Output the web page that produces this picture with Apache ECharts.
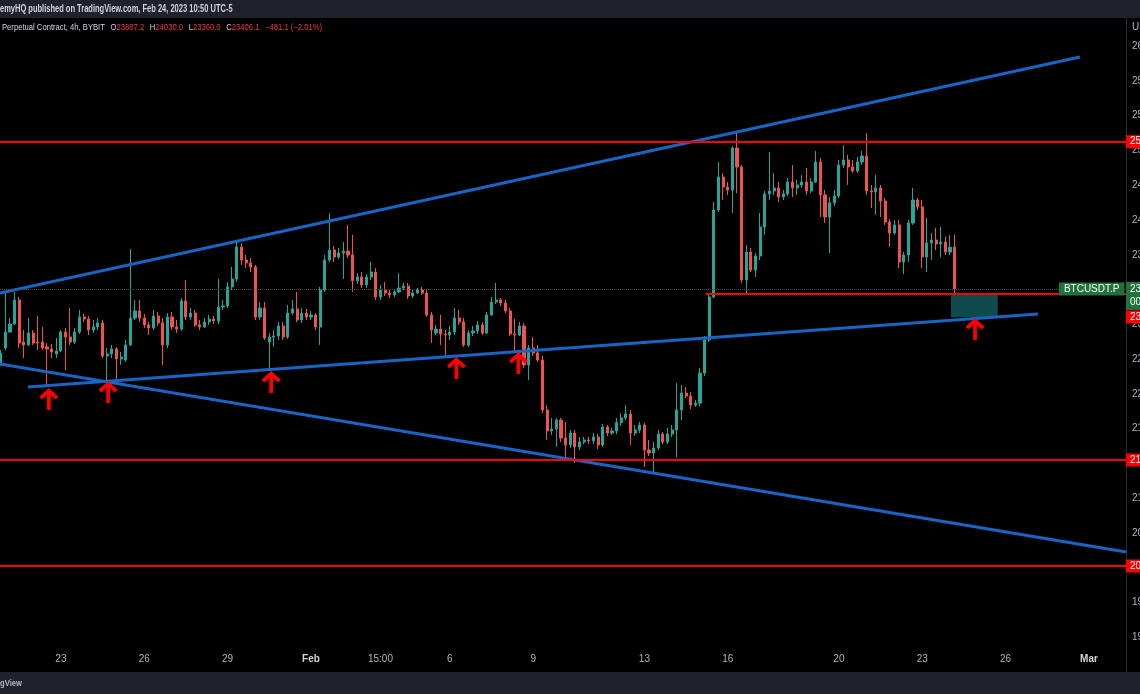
<!DOCTYPE html>
<html>
<head>
<meta charset="utf-8">
<script src="https://cdn.jsdelivr.net/npm/echarts@6/dist/echarts.min.js"></script>
<style>
html,body{margin:0;padding:0;background:#000;}
#c{width:1140px;height:694px;}
</style>
</head>
<body>
<div id="c"></div>
<script>
// ---- data (4h bars, UTC-5, first bar Jan 20 23:00) ----
const opens = [22555,22728,22912,23004,23280,22797,22763,22900,22797,22797,22740,22717,22659,22694,22912,22855,22797,22912,23085,23062,22935,22970,23016,22636,22659,22717,22602,22590,22763,23073,23154,23073,22993,22958,23096,23016,22763,23085,22970,22946,23269,23085,23130,22993,22970,23027,23062,23039,23200,23211,23430,23522,23890,23740,23706,23660,23085,23188,22797,22855,22866,22981,22855,23130,23177,23050,23130,23085,23108,22970,23395,23740,23855,23775,23820,23843,23797,23500,23545,23453,23545,23602,23315,23395,23360,23338,23372,23418,23441,23326,23360,23395,23360,23108,22900,22946,22889,22878,22912,23073,23027,22763,22900,22924,22993,22900,23108,23257,23280,23246,23154,22889,22878,22981,22533,22728,22671,22590,22015,21774,21796,21900,21693,21613,21750,21590,21647,21670,21660,21705,21613,21820,21750,21774,21870,21923,21969,21750,21785,21842,21555,21520,21578,21739,21647,21739,21785,22015,22210,22176,22072,22095,22440,22820,23315,24315,24695,24580,24545,25028,24810,23510,23832,23625,23786,24120,24500,24534,24568,24465,24500,24637,24568,24602,24637,24534,24637,24867,24488,24235,24397,24476,24832,24890,24810,24764,24867,24936,24534,24522,24568,24419,24177,24050,24143,23717,23797,24165,24430,24350,23775,23936,23970,23924,23947,23832,23887.2];
const closes = [22670,22912,23004,23280,22785,22763,22900,22785,22785,22728,22717,22682,22694,22912,22855,22797,22912,23085,23062,22935,22970,23016,22636,22659,22717,22602,22625,22763,23073,23154,23073,22993,22958,23096,23016,22763,23085,22970,22946,23269,23085,23130,22993,22970,23027,23062,23039,23200,23211,23430,23522,23890,23740,23706,23660,23085,23188,22843,22855,22866,22981,22855,23130,23177,23050,23130,23085,23108,22970,23395,23740,23855,23775,23820,23843,23797,23500,23545,23453,23545,23602,23315,23395,23360,23338,23372,23418,23441,23326,23360,23395,23360,23108,22935,22946,22889,22878,22912,23073,23027,22763,22900,22924,22993,22900,23108,23257,23280,23246,23154,22889,22878,22981,22533,22728,22671,22590,22015,21774,21796,21900,21693,21613,21750,21590,21647,21670,21660,21705,21613,21820,21750,21774,21870,21923,21969,21750,21785,21842,21555,21520,21578,21739,21647,21739,21785,22015,22210,22176,22072,22095,22440,22820,23315,24315,24695,24580,24545,25028,24810,23510,23832,23625,23786,24120,24500,24534,24568,24465,24500,24637,24568,24602,24637,24534,24637,24867,24488,24235,24397,24476,24832,24890,24810,24764,24867,24936,24534,24522,24568,24419,24177,24050,24143,23717,23797,24165,24430,24350,23775,23936,23970,23924,23947,23832,23887.2,23406.1];
const lows = [22521,22705,22900,22993,22728,22613,22751,22763,22705,22705,22280,22613,22613,22682,22475,22763,22774,22889,23027,22878,22900,22935,22613,22337,22613,22360,22533,22567,22751,23050,23027,22958,22878,22935,22981,22533,22728,22935,22900,22924,23050,23050,22970,22935,22958,22993,23004,23004,23165,23188,23395,23487,23683,23648,23602,23050,23050,22820,22498,22740,22820,22820,22832,23108,23027,23016,23050,23050,22935,22763,23372,23717,23717,23752,23522,23763,23372,23464,23418,23418,23510,23280,23280,23326,23303,23314,23360,23395,23292,23303,23349,23338,23085,22785,22878,22763,22636,22820,22878,22993,22740,22740,22866,22889,22878,22889,23096,23234,23211,23130,22866,22682,22866,22498,22360,22636,22567,21981,21670,21728,21590,21647,21440,21578,21405,21555,21624,21624,21624,21567,21590,21716,21728,21739,21831,21900,21613,21716,21750,21360,21486,21290,21555,21624,21624,21705,21474,21900,22153,22027,22050,22061,22406,22797,23303,24292,24430,24488,24280,24510,23475,23360,23602,23545,23740,24028,24430,24488,24407,24430,24476,24465,24488,24568,24488,24510,24626,24235,24165,23820,24361,24453,24798,24603,24741,24741,24832,24488,24338,24258,24235,24143,23890,24028,23648,23579,23717,24143,24315,23648,23602,23740,23855,23775,23797,23797,23360];
const highs = [22705,23360,23073,23372,23314,22935,23073,22935,23096,22970,22785,22774,22843,22935,22958,23188,22958,23165,23119,23096,23050,23073,23050,22728,22763,22740,22682,22820,23867,23280,23280,23119,23027,23165,23142,23073,23130,23142,23050,23303,23510,23188,23165,23050,23073,23108,23096,23522,23280,23487,23660,23936,23936,23798,23763,23683,23257,23257,22900,22935,23027,23027,23222,23280,23372,23188,23177,23154,23130,23430,23798,24280,23901,23878,23947,24143,24028,23590,23602,23579,23717,23648,23453,23487,23395,23406,23590,23476,23476,23395,23418,23430,23395,23142,22993,23108,22935,22981,23188,23165,23073,22935,22981,23039,23027,23142,23315,23476,23303,23280,23188,23062,23027,23016,22763,22855,22763,22636,22072,21923,21923,21923,21877,21785,21785,21705,21705,21705,21750,21739,21854,21842,21808,21923,21980,22072,22015,21842,21877,21865,21670,21647,21785,21762,21808,21842,22325,22303,22280,22222,22130,22498,22866,23349,24407,24867,24741,24637,25051,25200,24832,23913,23878,23820,24280,24534,24982,24741,24637,24545,24683,24832,24660,24717,24798,24683,24994,24913,24545,24465,24545,24890,25062,24947,24890,24925,24994,25200,24602,24717,24602,24453,24212,24200,24200,23832,24200,24568,24453,24430,24223,24050,24108,24120,24010,24028,24030];

const xTickIndex  = [13, 31, 49, 67, 82, 97, 115, 139, 157, 181, 199, 217, 235];
const xTickLabels = ['23', '26', '29', 'Feb', '15:00', '6', '9', '13', '16', '20', '23', '26', 'Mar'];
const yTicks = [19400,19800,20200,20600,21000,21400,21800,22200,22600,23000,23400,23800,24200,24600,25000,25400,25800,26200];

const levels = [25100, 23350, 21440, 20220];          // red horizontal levels
const level2Start = 152.3;                              // bar index where the 23350 level starts
const trendUpper   = [[-0.15, 23360], [233.05, 26075]];
const trendSupport = [[5.9, 22280], [224.0, 23119]];
const trendLower   = [[-0.15, 22544], [243.0, 20382]];
const arrowPoints  = [[10.4, 22268], [23.2, 22349], [58.4, 22463], [98.4, 22625], [111.8, 22682], [210.4, 23073]];
const targetBox    = [[205.2, 23337], [215.3, 23085]];
const countdown = '00:09:48';
const legendTitle = 'Perpetual Contract, 4h, BYBIT';
const headerText = 'emyHQ published on TradingView.com, Feb 24, 2023 10:50 UTC-5';

// ---- build ----
const n = opens.length;
const lastPrice = closes[n - 1];
const candleData = opens.map((o, i) => [i, o, closes[i], lows[i], highs[i]]);
const xMin = -0.15, xMax = 243.0;
const yMin = 19278, yMax = 26523;
const FONT = 'Liberation Sans, Arial, sans-serif';
const UP = '#26a69a', DOWN = '#ef5350', RED = '#ff0000', BLUE = '#1766c6', GREEN = '#22703a';

const fx = v => v.toFixed(1);
const sgn = (v, d) => (v < 0 ? '\u2212' : '+') + Math.abs(v).toFixed(d);
const chg = closes[n - 1] - closes[n - 2];
const pct = chg / closes[n - 2] * 100;

const redLabel = (txt, off) => ({
  show: true, position: 'end', distance: 0, formatter: txt,
  backgroundColor: RED, color: '#fff', fontSize: 10, fontFamily: FONT,
  padding: [2, 3, 1, 4], offset: off || [0, 0]
});
const redStyle = { color: RED, width: 2, type: 'solid' };

const chart = echarts.init(document.getElementById('c'), null, { renderer: 'canvas', width: 1140, height: 694 });

chart.setOption({
  backgroundColor: '#000000',
  animation: false,
  grid: { left: 0, right: 14, top: 18, bottom: 46, containLabel: false, outerBoundsMode: 'none' },
  xAxis: {
    type: 'value', min: xMin, max: xMax,
    axisLine: { show: false, onZero: false }, axisTick: { show: false }, splitLine: { show: false },
    axisLabel: {
      customValues: xTickIndex, margin: 6, color: '#b2b5be', fontSize: 10, fontFamily: FONT,
      formatter: v => {
        const k = xTickIndex.indexOf(Math.round(v));
        const t = k >= 0 ? xTickLabels[k] : '';
        return /^[A-Z]/.test(t) ? '{b|' + t + '}' : t;
      },
      rich: { b: { fontWeight: 'bold', color: '#d1d4dc', fontSize: 10, fontFamily: FONT } }
    }
  },
  yAxis: {
    type: 'value', position: 'right', min: yMin, max: yMax, scale: true,
    axisLine: { show: true, onZero: false, lineStyle: { color: '#2a2e39', width: 1 } },
    axisTick: { show: false }, splitLine: { show: false },
    axisLabel: { customValues: yTicks, margin: 6, color: '#b2b5be', fontSize: 10, fontFamily: FONT, formatter: v => fx(v) }
  },
  series: [
    {
      type: 'candlestick', name: 'BTCUSDT.P',
      dimensions: ['idx', 'open', 'close', 'lowest', 'highest'],
      encode: { x: 'idx', y: ['open', 'close', 'lowest', 'highest'] },
      data: candleData, barWidth: 2.6, z: 2,
      itemStyle: { color: UP, color0: DOWN, borderColor: UP, borderColor0: DOWN, borderWidth: 1 },
      emphasis: { disabled: true },
      markArea: {
        silent: true, itemStyle: { color: '#0f4b4d', opacity: 1 },
        data: [[{ coord: targetBox[0] }, { coord: targetBox[1] }]]
      },
      markLine: {
        silent: true, symbol: ['none', 'none'], animation: false,
        data: [
          { yAxis: lastPrice, lineStyle: { color: '#4b4f5a', width: 1, type: 'dotted' },
            label: { show: true, position: 'end', distance: 0, formatter: fx(lastPrice) + '\n' + countdown,
                     backgroundColor: GREEN, color: '#fff', fontSize: 10, lineHeight: 13, fontFamily: FONT,
                     padding: [1, 3, 1, 4], offset: [0, 7] } },
          { yAxis: levels[0], lineStyle: redStyle, label: redLabel(fx(levels[0])) },
          [{ coord: [level2Start, levels[1]], lineStyle: redStyle, label: redLabel(fx(levels[1]), [0, 23]) },
           { coord: [xMax, levels[1]] }],
          { yAxis: levels[2], lineStyle: redStyle, label: redLabel(fx(levels[2])) },
          { yAxis: levels[3], lineStyle: redStyle, label: redLabel(fx(levels[3])) }
        ]
      },
      markPoint: {
        silent: true, animation: false,
        data: [{
          coord: [xMax - 0.01, lastPrice], symbol: 'rect', symbolSize: 1, itemStyle: { color: 'rgba(0,0,0,0)' },
          label: { show: true, position: 'left', distance: 1, formatter: 'BTCUSDT.P', backgroundColor: GREEN,
                   color: '#fff', fontSize: 10, fontFamily: FONT, padding: [2, 5, 1, 5] }
        }]
      }
    },
    { type: 'line', data: trendUpper, symbol: 'none', z: 3, silent: true, lineStyle: { color: BLUE, width: 3 } },
    { type: 'line', data: trendSupport, symbol: 'none', z: 3, silent: true, lineStyle: { color: BLUE, width: 3 } },
    { type: 'line', data: trendLower, symbol: 'none', z: 3, silent: true, lineStyle: { color: BLUE, width: 3 } },
    {
      type: 'scatter', data: arrowPoints, z: 6, silent: true,
      symbol: 'path://M10 0 L20 9.5 L17 12.5 L12 7.5 L12 24 L8 24 L8 7.5 L3 12.5 L0 9.5 Z',
      symbolSize: [19, 22], symbolOffset: [0, 11], symbolKeepAspect: false,
      itemStyle: { color: RED, opacity: 1 }
    }
  ],
  graphic: [
    { type: 'rect', z: 100, shape: { x: 0, y: 0, width: 1140, height: 18 }, style: { fill: '#1e222d' } },
    { type: 'text', z: 101, x: 0, y: 9, scaleX: 0.75, style: { text: headerText, fill: '#d1d4dc', font: '600 10px ' + FONT, verticalAlign: 'middle' } },
    { type: 'text', z: 101, x: 2, y: 28, scaleX: 0.85, style: {
        verticalAlign: 'middle',
        text: '{t|' + legendTitle + '}  {k|O}{v|' + fx(opens[n-1]) + '}  {k|H}{v|' + fx(highs[n-1]) + '}  {k|L}{v|' + fx(lows[n-1]) +
              '}  {k|C}{v|' + fx(closes[n-1]) + '}  {v|' + sgn(chg, 1) + ' (' + sgn(pct, 2) + '%)}',
        rich: {
          t: { fill: '#d1d4dc', font: '9px ' + FONT },
          k: { fill: '#d1d4dc', font: '9px ' + FONT },
          v: { fill: '#f23645', font: '9px ' + FONT }
        }
    } },
    { type: 'text', z: 101, x: 1132, y: 27, style: { text: 'USDT', fill: '#b2b5be', font: '10px ' + FONT, verticalAlign: 'middle' } },
    { type: 'line', z: 100, shape: { x1: 1126.5, y1: 648, x2: 1126.5, y2: 672 }, style: { stroke: '#2a2e39', lineWidth: 1 } },
    { type: 'rect', z: 100, shape: { x: 0, y: 672, width: 1140, height: 22 }, style: { fill: '#1e222d' } },
    { type: 'text', z: 101, x: 0, y: 684, scaleX: 0.85, style: { text: 'gView', fill: '#b2b5be', font: '600 9px ' + FONT, verticalAlign: 'middle' } }
  ]
});
</script>
</body>
</html>
